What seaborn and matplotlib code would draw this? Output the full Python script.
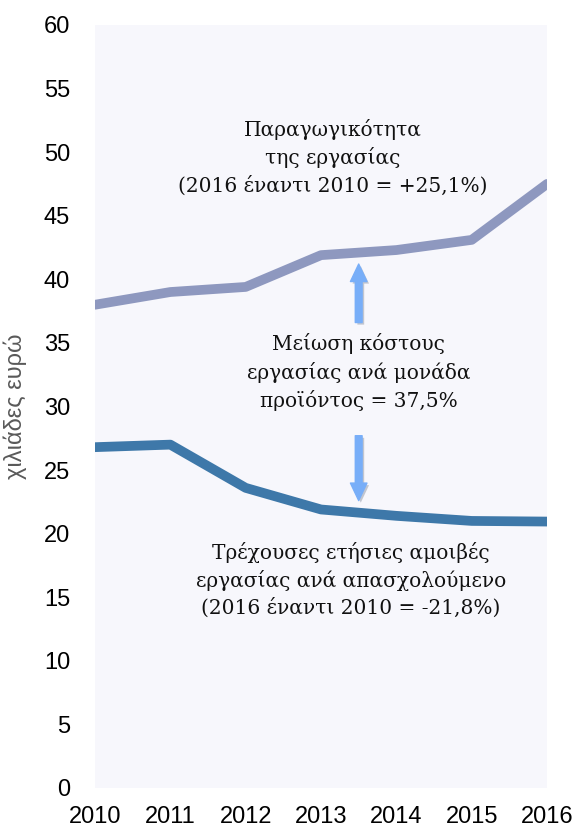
import pandas as pd
import numpy as np
import matplotlib
matplotlib.use("Agg")
import matplotlib.pyplot as plt
import matplotlib.patheffects as pe
import seaborn as sns

years = [2010, 2011, 2012, 2013, 2014, 2015, 2016]
productivity = [38.0, 39.0, 39.4, 41.9, 42.3, 43.1, 47.5]
compensation = [26.8, 27.0, 23.6, 21.9, 21.4, 21.0, 20.95]

label_prod = "Παραγωγικότητα\nτης εργασίας\n(2016 έναντι 2010 = +25,1%)"
label_comp = "Τρέχουσες ετήσιες αμοιβές\nεργασίας ανά απασχολούμενο\n(2016 έναντι 2010 = -21,8%)"
label_ulc = "Μείωση κόστους\nεργασίας ανά μονάδα\nπροϊόντος = 37,5%"
ylabel = "χιλιάδες ευρώ"

df = pd.DataFrame({
    "year": years * 2,
    "value": productivity + compensation,
    "series": ["prod"] * len(years) + ["comp"] * len(years),
})

sns.set_theme(style="white")
plt.rcParams['font.family'] = ['Liberation Sans', 'DejaVu Sans']

fig = plt.figure(figsize=(5.79, 8.32), dpi=100)
ax = fig.add_axes([0.1641, 0.0529, 0.7807, 0.9171])
ax.set_facecolor("#f7f7fc")

sns.lineplot(data=df, x="year", y="value", hue="series",
             palette={"prod": "#8e98bf", "comp": "#3e78a9"},
             linewidth=7, legend=False, ax=ax)

ax.set_xlim(2010, 2016)
ax.set_ylim(0, 60)
ax.set_yticks(np.arange(0, 61, 5))
ax.set_xticks(years)
for s in ax.spines.values():
    s.set_visible(False)
ax.tick_params(axis="y", labelsize=17, pad=18, length=0, labelcolor="black")
ax.tick_params(axis="x", labelsize=17, pad=13, length=0, labelcolor="black")
ax.set_xlabel("")
ax.set_ylabel(ylabel, fontsize=17, color="#595959")
ax.yaxis.set_label_coords(-0.15, 0.5)

serif = dict(family="DejaVu Serif", fontsize=14.5, ha="center", va="center",
             linespacing=1.42, color="#111111")
ax.text(2013.15, 49.6, label_prod, **serif)
ax.text(2013.5, 32.7, label_ulc, **serif)
ax.text(2013.4, 16.35, label_comp, **serif)

arrow_kw = dict(arrowstyle="simple,head_length=0.9,head_width=0.85,tail_width=0.35",
                color="#78aef8", mutation_scale=14, shrinkA=0, shrinkB=0,
                path_effects=[pe.SimplePatchShadow(offset=(1.5, -1.5), alpha=0.25),
                              pe.Normal()])
ax.annotate("", xy=(2013.5, 41.2), xytext=(2013.5, 36.6), arrowprops=arrow_kw)
ax.annotate("", xy=(2013.5, 22.6), xytext=(2013.5, 27.7), arrowprops=arrow_kw)

fig.savefig("out.png", dpi=100)
